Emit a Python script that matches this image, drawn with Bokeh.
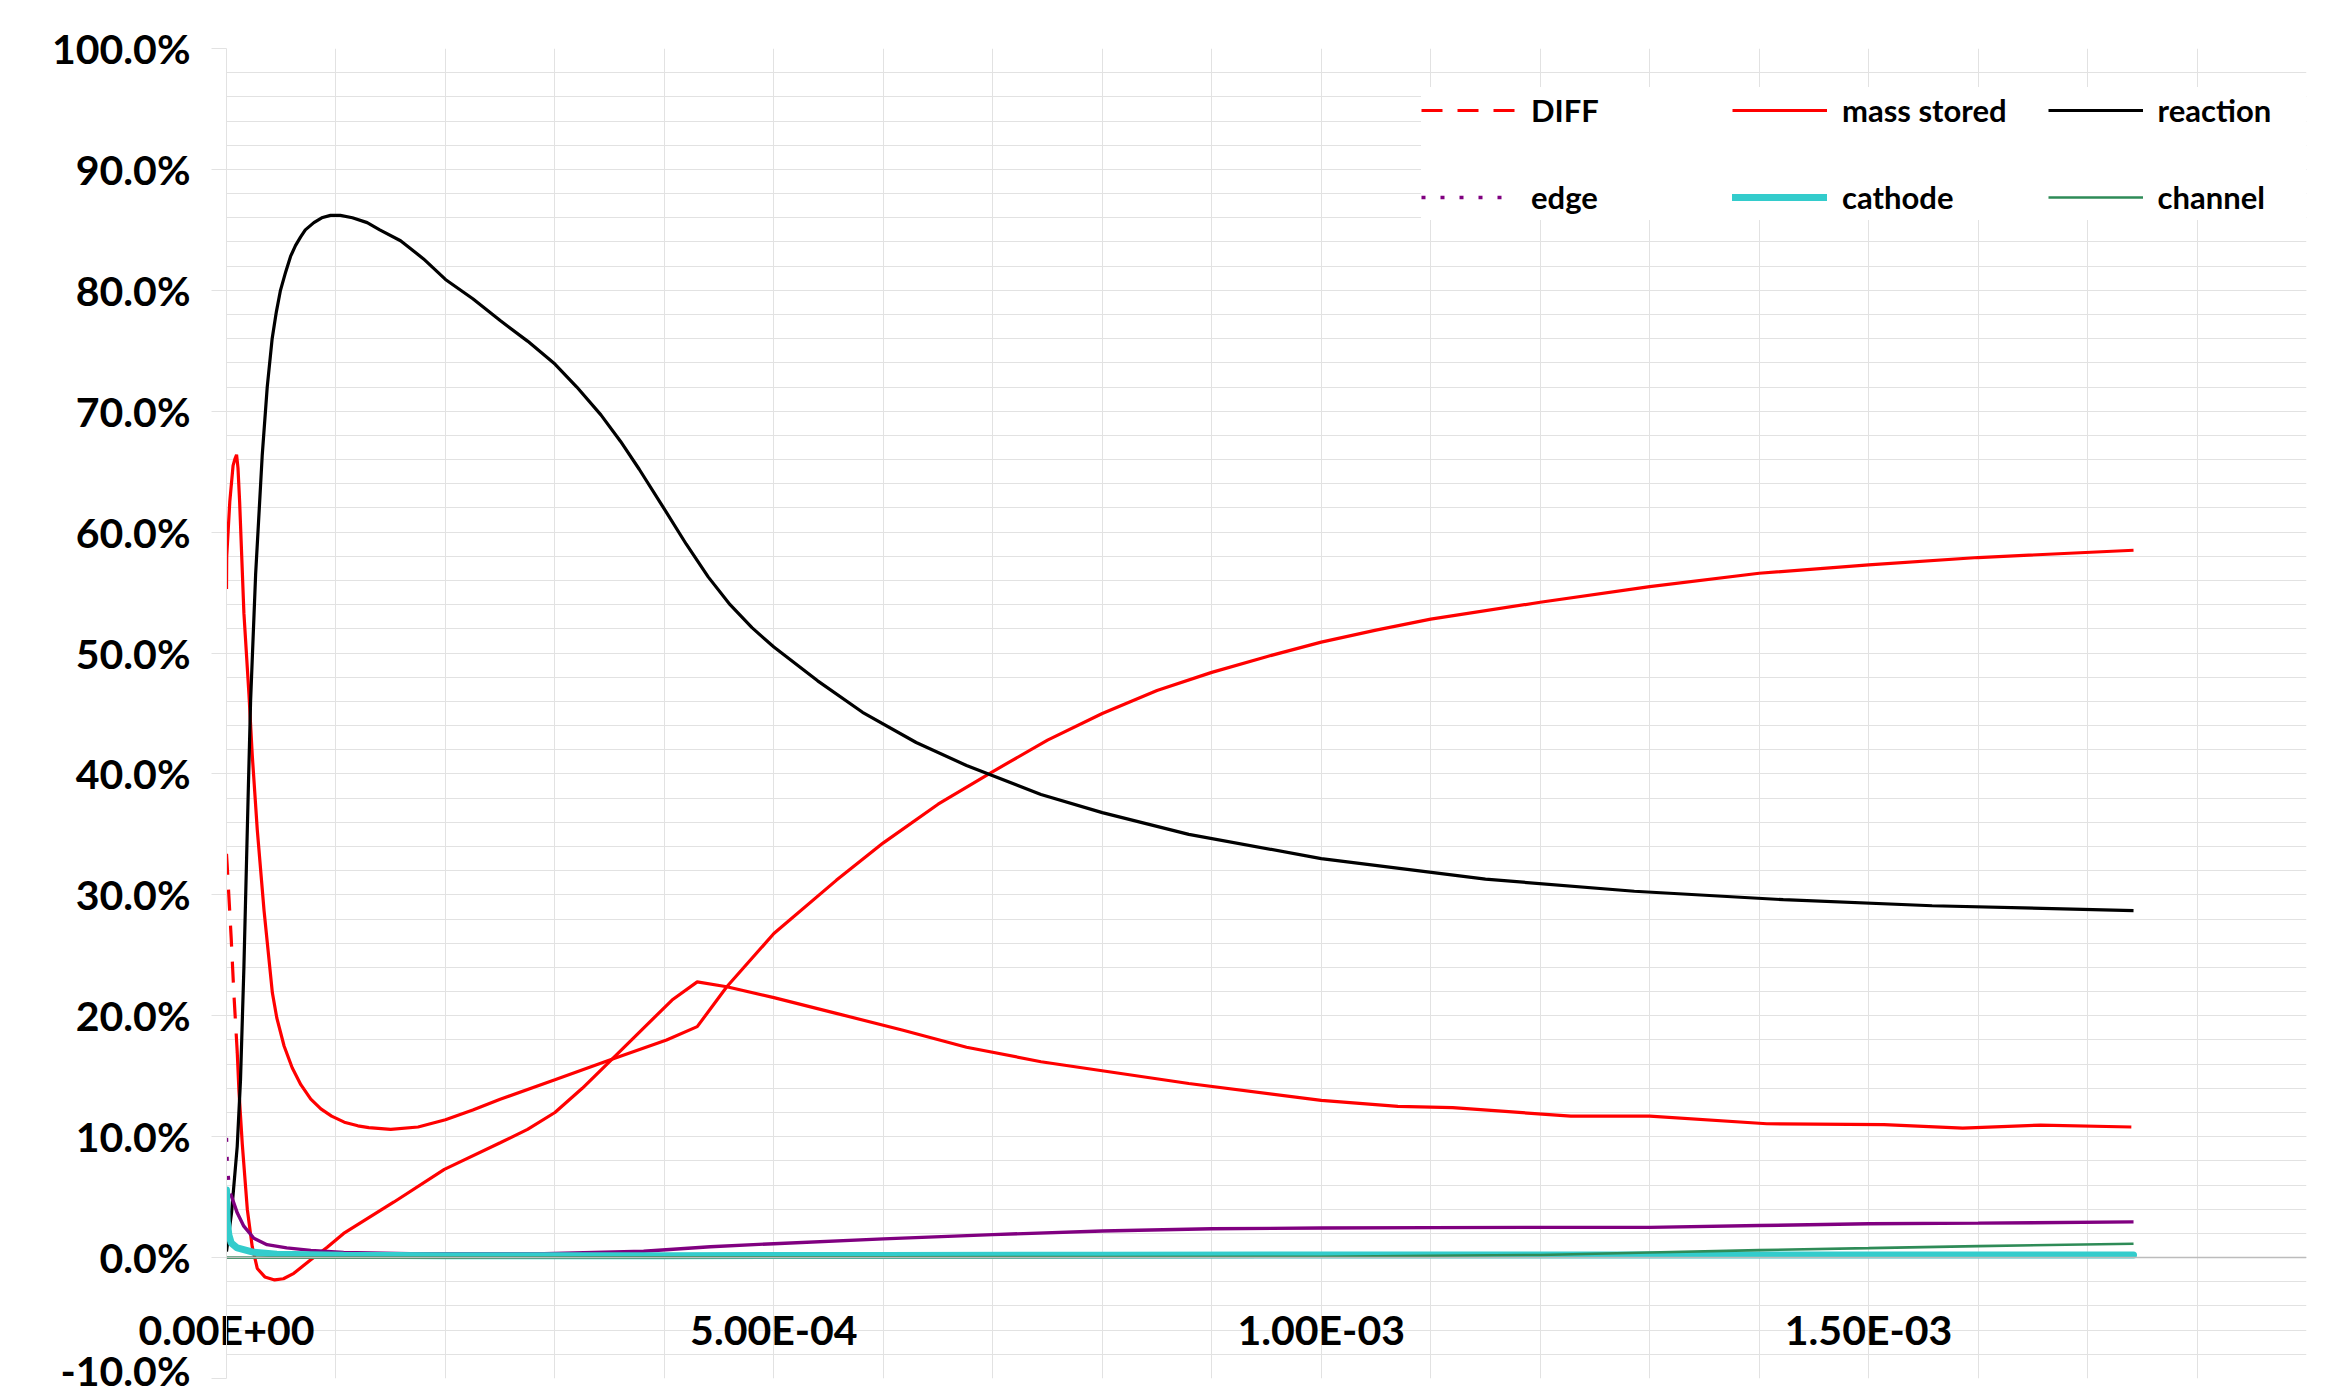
from bokeh.plotting import figure
from bokeh.models import (Range1d, FixedTicker, NumeralTickFormatter,
                          CustomJSTickFormatter, Legend, LegendItem, Span)
from bokeh.embed import file_html
from bokeh.resources import INLINE

# ---------------- data (time in units of 1e-4 s, values in %) ----------------
TIME_UNIT = 1e-4

diff_t = [0.0, 0.006, 0.021, 0.043, 0.067, 0.098]
diff_v = [33.4, 32.5, 30.0, 26.4, 21.9, 17.0]

diff2_t = [0.098, 0.113, 0.144, 0.19, 0.235, 0.281, 0.35, 0.44, 0.52, 0.615, 0.767,
           0.92, 1.07, 1.53, 1.99, 2.5, 2.75, 3.0, 3.25, 3.52, 4.07, 4.30, 4.57, 5.0,
           5.57, 6.18, 6.76, 7.44, 8.79, 10.0, 10.7, 11.2, 12.28, 13.0, 14.07,
           15.14, 15.86, 16.57, 17.40]
diff2_v = [17.0, 13.9, 9.4, 4.0, 0.9, -0.9, -1.6, -1.85, -1.75, -1.3, -0.2,
           0.85, 2.0, 4.6, 7.3, 9.5, 10.6, 12.0, 14.0, 16.4, 21.3, 22.8, 22.4, 21.5,
           20.2, 18.8, 17.4, 16.2, 14.4, 13.0, 12.5, 12.4, 11.7, 11.7, 11.07,
           11.0, 10.7, 10.96, 10.8]

mass_t = [0.0, 0.002, 0.03, 0.06, 0.075, 0.092, 0.105, 0.12, 0.159, 0.205, 0.235,
          0.281, 0.343, 0.419, 0.46, 0.526, 0.6, 0.679, 0.77, 0.862, 0.96, 1.076,
          1.2, 1.30, 1.5, 1.75, 2.0, 2.25, 2.5, 3.0, 3.52, 4.02, 4.30, 4.57, 5.0,
          5.57, 6.0, 6.5, 7.0, 7.5, 8.0, 8.5, 9.0, 9.5, 10.0, 10.5, 11.0, 12.0,
          13.0, 14.0, 15.0, 16.0, 17.42]
mass_v = [55.3, 58.0, 62.5, 65.5, 66.0, 66.4, 65.3, 62.5, 53.3, 46.6, 41.6,
          35.4, 28.7, 21.9, 19.8, 17.5, 15.7, 14.3, 13.1, 12.3, 11.7, 11.2,
          10.9, 10.75, 10.6, 10.8, 11.4, 12.2, 13.1, 14.7, 16.4, 18.0, 19.1, 22.4,
          26.8, 31.2, 34.3, 37.5, 40.2, 42.8, 45.0, 46.9, 48.4, 49.7, 50.9, 51.9,
          52.8, 54.2, 55.5, 56.6, 57.3, 57.9, 58.5]

reaction_t = [0.0, 0.046, 0.098, 0.128, 0.159, 0.2, 0.22, 0.266, 0.312, 0.326, 0.372,
              0.417, 0.455, 0.493, 0.54, 0.585, 0.63, 0.676, 0.72, 0.798, 0.87, 0.95,
              1.04, 1.15, 1.285, 1.4, 1.59, 1.8, 2.0, 2.25, 2.5, 2.75, 3.0, 3.2, 3.42,
              3.6, 3.77, 4.0, 4.2, 4.4, 4.6, 4.8, 5.0, 5.4, 5.81, 6.3, 6.76, 7.44,
              8.0, 8.79, 10.0, 11.5, 12.86, 14.22, 15.58, 17.42]
reaction_v = [0.5, 3.7, 9.2, 14.7, 24.0, 39.0, 46.0, 56.5, 64.0, 66.3, 72.0,
              76.0, 78.2, 80.0, 81.5, 82.8, 83.7, 84.4, 85.0, 85.6, 86.0, 86.2,
              86.2, 86.0, 85.6, 85.0, 84.1, 82.6, 80.9, 79.3, 77.5, 75.8, 73.9, 72.0,
              69.7, 67.5, 65.2, 61.9, 59.0, 56.3, 54.0, 52.1, 50.5, 47.7, 45.1, 42.6,
              40.7, 38.3, 36.8, 35.0, 33.0, 31.3, 30.3, 29.6, 29.1, 28.7]

edge_t = [0.0, 0.006, 0.02, 0.037]
edge_v = [9.9, 8.0, 6.3, 5.3]

edge2_t = [0.037, 0.098, 0.158, 0.25, 0.37, 0.55, 0.77, 1.07, 1.68, 2.9, 3.81, 4.42,
           5.0, 6.0, 7.0, 8.0, 9.0, 10.0, 11.0, 12.0, 13.0, 14.0, 15.0, 16.0, 17.42]
edge2_v = [5.3, 3.7, 2.6, 1.6, 1.07, 0.8, 0.6, 0.42, 0.33, 0.33, 0.52, 0.9,
           1.15, 1.55, 1.9, 2.2, 2.38, 2.45, 2.48, 2.5, 2.5, 2.65, 2.8, 2.85, 2.95]

cathode_t = [0.0, 0.006, 0.021, 0.043, 0.098, 0.25, 0.46, 1.07, 2.0, 4.0, 6.0, 8.0,
             10.0, 12.0, 14.0, 16.0, 17.42]
cathode_v = [5.6, 3.1, 1.9, 1.2, 0.8, 0.44, 0.28, 0.19, 0.15, 0.15, 0.18, 0.2,
             0.22, 0.22, 0.22, 0.22, 0.22]

channel_t = [0.0, 2.0, 4.0, 6.0, 8.0, 10.0, 11.0, 12.0, 13.0, 14.0, 15.0, 16.0, 17.42]
channel_v = [0.0, 0.0, 0.02, 0.03, 0.05, 0.07, 0.15, 0.22, 0.42, 0.62, 0.78, 0.95, 1.15]

x_ticks = [0.0, 5e-4, 1e-3, 1.5e-3]
x_grid = [i * 1e-4 for i in range(0, 20)]
y_ticks = [i / 10 for i in range(-1, 11)]
y_minor = [i / 50 for i in range(-5, 51)]


def tx(ts):
    return [t * TIME_UNIT for t in ts]


def py(vs):
    return [v / 100.0 for v in vs]


# ---------------- figure ----------------
p = figure(width=2321, height=1394, output_backend="svg", toolbar_location=None,
           x_range=Range1d(0, 1.9e-3), y_range=Range1d(-0.10, 1.00),
           min_border_left=226, min_border_right=15, min_border_top=48,
           min_border_bottom=16)
p.outline_line_color = None
p.background_fill_color = "white"

GRID = "#e2e2e2"
AXIS = "#bcbcbc"
FONT = "Lato"

# x axis: labels lifted into the plot so they sit just under the 0% line
xa = p.xaxis[0]
xa.ticker = FixedTicker(ticks=x_ticks)
xa.formatter = CustomJSTickFormatter(code="""
const s = tick.toExponential(2);
const parts = s.split("e");
const n = parseInt(parts[1]);
const a = Math.abs(n);
return parts[0] + "E" + (n < 0 ? "-" : "+") + (a < 10 ? "0" + a : String(a));
""")
xa.axis_line_color = None
xa.major_tick_line_color = None
xa.minor_tick_line_color = None
xa.major_tick_out = 0
xa.major_tick_in = 0
xa.minor_tick_out = 0
xa.major_label_standoff = -74
xa.major_label_text_font = FONT
xa.major_label_text_font_style = "bold"
xa.major_label_text_font_size = "41px"
xa.major_label_text_color = "black"

zero_line = Span(location=0, dimension="width", line_color=AXIS, line_width=1.5)
p.add_layout(zero_line)

ya = p.yaxis[0]
ya.ticker = FixedTicker(ticks=y_ticks, minor_ticks=y_minor)
ya.formatter = NumeralTickFormatter(format="0.0%")
ya.axis_line_color = GRID
ya.major_tick_line_color = GRID
ya.major_tick_out = 15
ya.major_tick_in = 0
ya.minor_tick_line_color = None
ya.major_label_standoff = 21
ya.major_label_text_font = FONT
ya.major_label_text_font_style = "bold"
ya.major_label_text_font_size = "41px"
ya.major_label_text_color = "black"

p.xgrid.ticker = FixedTicker(ticks=x_grid)
p.xgrid.grid_line_color = GRID
p.ygrid.grid_line_color = GRID
p.ygrid.minor_grid_line_color = GRID

# ---------------- series ----------------
p.line(tx(diff2_t), py(diff2_v), line_color="#ff0000", line_width=3.2)
r_diff = p.line(tx(diff_t), py(diff_v), line_color="#ff0000", line_width=3.2,
                line_dash="21 15")
r_mass = p.line(tx(mass_t), py(mass_v), line_color="#ff0000", line_width=3.2)
r_react = p.line(tx(reaction_t), py(reaction_v), line_color="black", line_width=3.2)
p.line(tx(edge2_t), py(edge2_v), line_color="#800080", line_width=3.4)
r_edge = p.line(tx(edge_t), py(edge_v), line_color="#800080", line_width=3.4,
                line_dash="4 15")
r_cath = p.line(tx(cathode_t), py(cathode_v), line_color="#33cccc", line_width=7,
                line_cap="round")
r_chan = p.line(tx(channel_t), py(channel_v), line_color="#2e8b57", line_width=2.6)

legend = Legend(
    items=[LegendItem(label="DIFF", renderers=[r_diff]),
           LegendItem(label="mass stored", renderers=[r_mass]),
           LegendItem(label="reaction", renderers=[r_react]),
           LegendItem(label="edge", renderers=[r_edge]),
           LegendItem(label="cathode", renderers=[r_cath]),
           LegendItem(label="channel", renderers=[r_chan])],
    orientation="horizontal", ncols=3,
    location=(1195, 1158),
    glyph_width=95, glyph_height=46, label_height=46, label_width=160,
    label_standoff=15, spacing=41, padding=10,
    label_text_font=FONT, label_text_font_style="bold",
    label_text_font_size="31px", label_text_color="black",
    border_line_color=None, background_fill_color="white",
    background_fill_alpha=1.0)
p.add_layout(legend)

open("out.html", "w").write(file_html(p, INLINE))
